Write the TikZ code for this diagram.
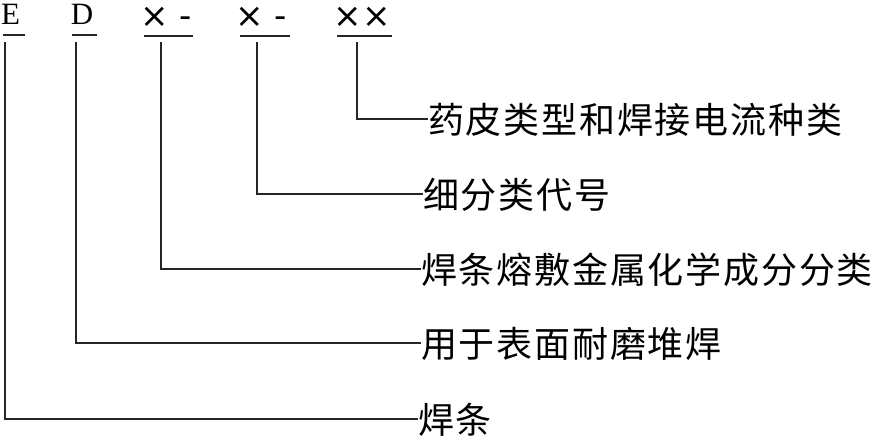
\documentclass[tikz,border=0pt]{standalone}
\usepackage{fontspec}
\setmainfont{Liberation Serif}
\newfontfamily\cjk[LetterSpace=5]{Noto Sans CJK SC}
\newfontfamily\symf{DejaVu Sans}
\begin{document}
\begin{tikzpicture}[x=1pt,y=-1pt,
  lbl/.style={anchor=base west,inner sep=0pt,font=\cjk\fontsize{36}{36}\selectfont},
  code/.style={anchor=base,inner sep=0pt,font=\fontsize{31}{31}\selectfont},
  xcode/.style={anchor=base,inner sep=0pt,font=\symf\fontsize{34}{34}\selectfont},
  ln/.style={line width=1.1pt,black!85}]
\useasboundingbox (0,0) rectangle (873,436);
% code letters
\node[code] (E) at (10.5,25) {E};
\node[code] (D) at (82,25) {D};
\node[xcode] (X1) at (166,28) {×\hspace{10pt}-};
\node[xcode] (X2) at (261,28) {×\hspace{10pt}-};
\node[xcode] (X3) at (362,28) {××};
% underlines
\draw[ln] (3,35) -- (25,35);
\draw[ln] (72,35) -- (97,35);
\draw[ln] (144,36) -- (193,36);
\draw[ln] (240,36) -- (290,36);
\draw[ln] (337,36) -- (392,36);
% connector starts
\coordinate (sE) at (5,42);
\coordinate (sD) at (76,42);
\coordinate (s1) at (161,42);
\coordinate (s2) at (257,42);
\coordinate (s3) at (357,42);
% labels
\node[lbl] (L3) at (428,133) {药皮类型和焊接电流种类};
\node[lbl] (L2) at (423,208) {细分类代号};
\node[lbl] (L1) at (421,283) {焊条熔敷金属化学成分分类};
\node[lbl] (LD) at (421,357) {用于表面耐磨堆焊};
\node[lbl] (LE) at (418,433) {焊条};
% connectors
\draw[ln] (s3) |- ([yshift=14pt]L3.base west);
\draw[ln] (s2) |- ([yshift=14pt]L2.base west);
\draw[ln] (s1) |- ([yshift=14pt]L1.base west);
\draw[ln] (sD) |- ([yshift=14pt]LD.base west);
\draw[ln] (sE) |- ([yshift=14pt]LE.base west);
\end{tikzpicture}
\end{document}
